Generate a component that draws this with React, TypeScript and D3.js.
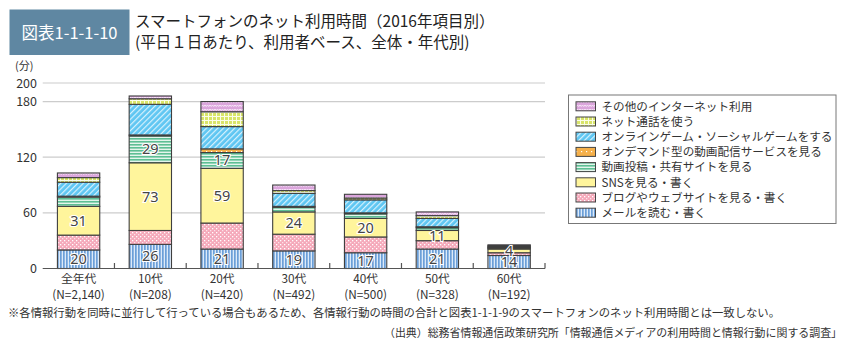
import React from 'react'
import * as d3 from 'd3'

// categories and values (minutes per weekday)
const groups = ['全年代', '10代', '20代', '30代', '40代', '50代', '60代']
const sampleN = ['(N=2,140)', '(N=208)', '(N=420)', '(N=492)', '(N=500)', '(N=328)', '(N=192)']

const seriesNames = [
  'メールを読む・書く',
  'ブログやウェブサイトを見る・書く',
  'SNSを見る・書く',
  '動画投稿・共有サイトを見る',
  'オンデマンド型の動画配信サービスを見る',
  'オンラインゲーム・ソーシャルゲームをする',
  'ネット通話を使う',
  'その他のインターネット利用',
]
const mail = [20, 26, 21, 19, 17, 21, 14]
const blog = [16, 15, 28, 18, 17, 9, 3]
const sns = [31, 73, 59, 24, 20, 11, 4]
const video = [10, 29, 17, 5, 5, 3, 1]
const ondemand = [1, 1, 4, 1, 1, 1, 0.5]
const game = [15, 33, 24, 14, 14, 9, 1]
const call = [5, 6, 16, 3, 2, 3, 1]
const other = [5, 3, 11, 6, 4, 4, 1]

const yTicks = [0, 60, 120, 180, 200]
// which segments carry a number
const labelled = { 0: [0, 1, 2, 3, 4, 5, 6], 2: [0, 1, 2, 3, 4, 5, 6], 3: [1, 2] }

const patIds = ['pMail', 'pBlog', 'pSns', 'pVideo', 'pOnd', 'pGame', 'pCall', 'pOther']
const font = '"Noto Sans CJK JP", "Noto Sans", sans-serif'

const Patterns = () => (
  <defs>
    <pattern id="pMail" width="3" height="4" patternUnits="userSpaceOnUse">
      <rect width="3" height="4" fill="#dceaf9" />
      <rect x="0" width="1.7" height="4" fill="#6b9fd8" />
    </pattern>
    <pattern id="pBlog" width="4" height="4" patternUnits="userSpaceOnUse">
      <rect width="4" height="4" fill="#f5a9ba" />
      <rect x="0" y="0" width="1.3" height="1.3" fill="#fff" />
      <rect x="2" y="2" width="1.3" height="1.3" fill="#fde3ea" />
    </pattern>
    <pattern id="pSns" width="4" height="4" patternUnits="userSpaceOnUse">
      <rect width="4" height="4" fill="#fff59c" />
    </pattern>
    <pattern id="pVideo" width="4" height="3" patternUnits="userSpaceOnUse">
      <rect width="4" height="3" fill="#e4f5ec" />
      <rect y="0" width="4" height="1.6" fill="#5dbf94" />
    </pattern>
    <pattern id="pOnd" width="5" height="5" patternUnits="userSpaceOnUse">
      <rect width="5" height="5" fill="#f5b04a" />
      <rect x="1" y="1" width="1.2" height="1.2" fill="#fff" />
    </pattern>
    <pattern id="pGame" width="4" height="4" patternUnits="userSpaceOnUse" patternTransform="rotate(45)">
      <rect width="4" height="4" fill="#5ec6f2" />
      <rect width="1.2" height="4" fill="#d8f2fd" />
    </pattern>
    <pattern id="pCall" width="4" height="4" patternUnits="userSpaceOnUse">
      <rect width="4" height="4" fill="#d8e46a" />
      <rect width="4" height="1" fill="#fbfde8" />
      <rect width="1" height="4" fill="#fbfde8" />
    </pattern>
    <pattern id="pOther" width="5" height="4" patternUnits="userSpaceOnUse">
      <rect width="5" height="4" fill="#dba6dc" />
      <path d="M0,1 L1.25,2.5 L2.5,1 L3.75,2.5 L5,1" fill="none" stroke="#fbeefb" strokeWidth="0.9" />
    </pattern>
  </defs>
)

export default function App() {
  const rows = groups.map((g, i) => ({
    g,
    s0: mail[i], s1: blog[i], s2: sns[i], s3: video[i],
    s4: ondemand[i], s5: game[i], s6: call[i], s7: other[i],
  }))
  const keys = ['s0', 's1', 's2', 's3', 's4', 's5', 's6', 's7']
  const stacked = d3.stack().keys(keys)(rows as any)

  const x = d3.scaleBand().domain(groups).range([42.7, 545]).paddingInner(0.41).paddingOuter(0.205)
  const y = d3.scaleLinear().domain([0, 200]).range([268.5, 83])
  const step = x.step()

  return (
    <svg width={850} height={351} style={{ position: 'absolute', left: 0, top: 0, fontFamily: font }}>
      <Patterns />
      <rect width={850} height={351} fill="#fff" />

      {/* title */}
      <rect x={9.5} y={9.5} width={120} height={45.5} fill="#5f87a2" />
      <text x={69.5} y={38.5} textAnchor="middle" fill="#fff" fontSize={16.5}>図表1-1-1-10</text>
      <text x={135} y={27} fontSize={15.5} fill="#222">スマートフォンのネット利用時間（2016年項目別）</text>
      <text x={135} y={48} fontSize={15.5} fill="#222">(平日１日あたり、利用者ベース、全体・年代別)</text>

      {/* y grid and labels */}
      <text x={15} y={70} fontSize={11} fill="#333">(分)</text>
      {yTicks.map(t => (
        <g key={t}>
          {t > 0 && <line x1={42.7} x2={545} y1={y(t)} y2={y(t)} stroke="#cccccc" strokeWidth={1.2} />}
          <text x={37} y={y(t) + 4.5} textAnchor="end" fontSize={12.5} fill="#333">{t}</text>
        </g>
      ))}

      {/* stacked bars */}
      {stacked.map((layer, k) => (
        <g key={k}>
          {layer.map((d, i) => (
            <rect
              key={i}
              x={x(groups[i])}
              y={y(d[1])}
              width={x.bandwidth()}
              height={Math.max(0, y(d[0]) - y(d[1]))}
              fill={`url(#${patIds[k]})`}
              stroke="#3f3f3f"
              strokeWidth={1.1}
            />
          ))}
        </g>
      ))}

      {/* segment labels */}
      {Object.entries(labelled).map(([k, idx]) =>
        (idx as number[]).map(i => {
          const d = stacked[+k][i]
          return (
            <text
              key={k + '-' + i}
              x={(x(groups[i]) as number) + x.bandwidth() / 2}
              y={y((d[0] + d[1]) / 2) + 5}
              textAnchor="middle"
              fontSize={14.5}
              fill="#444"
              stroke="#fff"
              strokeWidth={2.2}
              paintOrder="stroke"
              fontFamily='"Noto Sans", sans-serif'
            >
              {(rows[i] as any)['s' + k]}
            </text>
          )
        })
      )}

      {/* x axis */}
      <line x1={42.7} x2={545} y1={268.5} y2={268.5} stroke="#555" strokeWidth={1.2} />
      {groups.slice(1).concat(['end']).map((g, i) => {
        const xx = 42.7 + step * (i + 1)
        return <line key={g} x1={xx} x2={xx} y1={263} y2={268.5} stroke="#555" strokeWidth={1.2} />
      })}
      {groups.map((g, i) => (
        <g key={g}>
          <text x={(x(g) as number) + x.bandwidth() / 2} y={283} textAnchor="middle" fontSize={11.8} fill="#333">{g}</text>
          <text x={(x(g) as number) + x.bandwidth() / 2} y={299} textAnchor="middle" fontSize={11.8} fill="#333">{sampleN[i]}</text>
        </g>
      ))}

      {/* legend */}
      <rect x={568.5} y={95} width={267.5} height={128.5} fill="#fff" stroke="#777" strokeWidth={1} />
      {seriesNames.slice().reverse().map((name, j) => {
        const k = 7 - j
        const cy = 106.3 + j * 15.2
        return (
          <g key={name}>
            <rect x={576} y={cy - 4.5} width={19.5} height={9} fill={`url(#${patIds[k]})`} stroke="#444" strokeWidth={1} />
            <text x={601.5} y={cy + 4.3} fontSize={11.6} fill="#333">{name}</text>
          </g>
        )
      })}

      {/* notes */}
      <text x={8} y={317} fontSize={11.5} fill="#333" textLength={772} lengthAdjust="spacingAndGlyphs">
        ※各情報行動を同時に並行して行っている場合もあるため、各情報行動の時間の合計と図表1-1-1-9のスマートフォンのネット利用時間とは一致しない。
      </text>
      <text x={384} y={337} fontSize={10.8} fill="#333" textLength={458} lengthAdjust="spacingAndGlyphs">
        （出典）総務省情報通信政策研究所「情報通信メディアの利用時間と情報行動に関する調査」
      </text>
    </svg>
  )
}
